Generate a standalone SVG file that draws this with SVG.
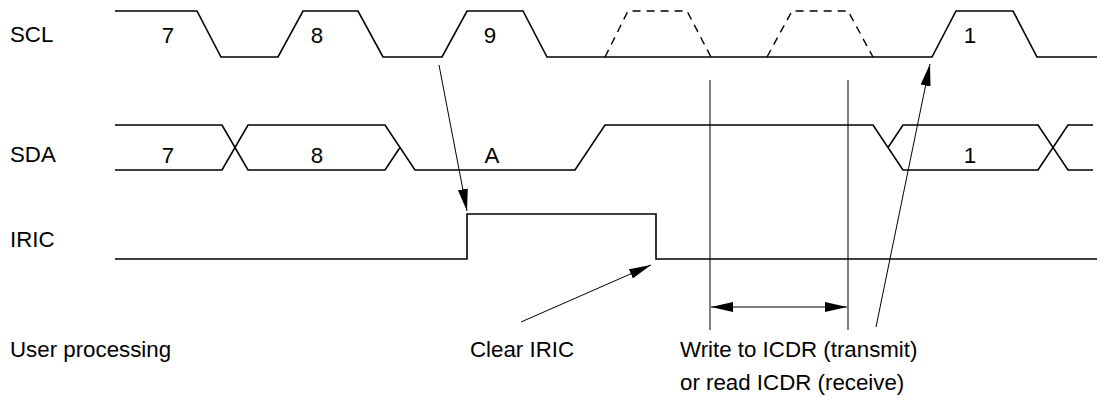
<svg xmlns="http://www.w3.org/2000/svg" width="1120" height="406" viewBox="0 0 1120 406">
<style>
text{font-family:"Liberation Sans",Arial,sans-serif;font-size:22.3px;fill:#000}
.w{fill:none;stroke:#000;stroke-width:1.6;stroke-linejoin:miter}
.d{fill:none;stroke:#000;stroke-width:1.4;stroke-dasharray:8,6}
.t{fill:none;stroke:#000;stroke-width:1}
.c{text-anchor:middle}
</style>
<defs>
<marker id="ah" viewBox="0 0 22 10" refX="22" refY="5" markerWidth="22" markerHeight="10" markerUnits="userSpaceOnUse" orient="auto-start-reverse">
<path d="M0,0 L22,5 L0,10 Z" fill="#000"/>
</marker>
</defs>
<rect width="1120" height="406" fill="#fff"/>
<g id="scl">
<text x="10" y="42">SCL</text>
<path class="w" d="M115,11 H197 L221,57 H278 L303,11 H358 L383,57 H442 L467,11 H523 L547,57 H932 L956,11 H1013 L1037,57 H1097"/>
<path class="d" d="M605,57 L628,11 H687 L711,57 M767,57 L792,11 H848 L873,57"/>
<text class="c" x="168" y="43">7</text>
<text class="c" x="317" y="43">8</text>
<text class="c" x="490" y="43">9</text>
<text class="c" x="970" y="43">1</text>
</g>
<g id="sda">
<text x="10" y="162">SDA</text>
<path class="w" d="M115,125 H222 L248,170 H385 L400,147.5"/>
<path class="w" d="M115,170 H222 L248,125 H385 L415,170 H575 L605,125 H873 L903,170 H1038 L1068,125 H1093"/>
<path class="w" d="M888,147.5 L903,125 H1038 L1068,170 H1093"/>
<text class="c" x="168" y="163">7</text>
<text class="c" x="317" y="163">8</text>
<text class="c" x="492" y="163">A</text>
<text class="c" x="970" y="163">1</text>
</g>
<g id="iric">
<text x="10" y="247">IRIC</text>
<path class="w" d="M115,259 H467 V214 H656 V259 H1097"/>
</g>
<g id="labels">
<text x="10" y="357">User processing</text>
<text x="470" y="357">Clear IRIC</text>
<text x="680" y="357">Write to ICDR (transmit)</text>
<text x="680" y="390">or read ICDR (receive)</text>
</g>
<g id="connectors">
<line class="t" x1="710" y1="80" x2="710" y2="330"/>
<line class="t" x1="848" y1="80" x2="848" y2="330"/>
<line class="t" x1="711" y1="307" x2="847" y2="307" marker-start="url(#ah)" marker-end="url(#ah)"/>
<line class="t" x1="439" y1="65" x2="467" y2="211" marker-end="url(#ah)"/>
<line class="t" x1="521" y1="322" x2="651" y2="265" marker-end="url(#ah)"/>
<line class="t" x1="876" y1="327" x2="930" y2="64" marker-end="url(#ah)"/>
</g>
</svg>
